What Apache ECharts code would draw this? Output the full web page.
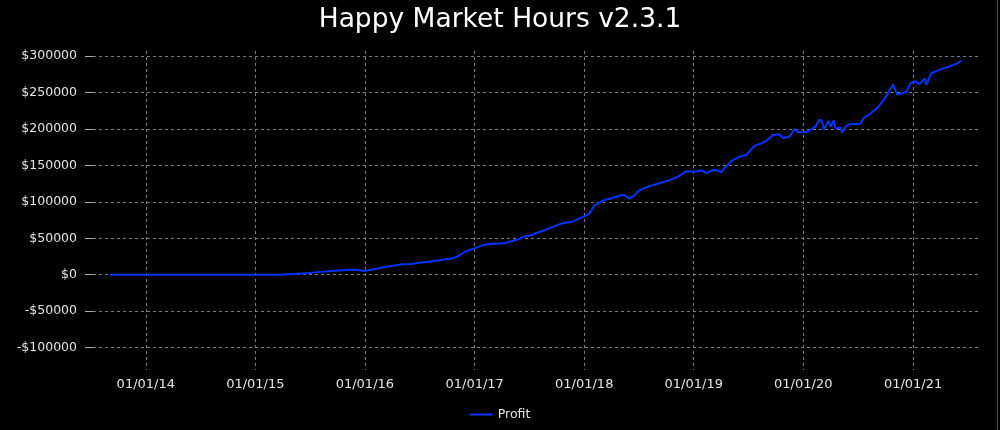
<!DOCTYPE html>
<html>
<head>
<meta charset="utf-8">
<script src="https://cdn.jsdelivr.net/npm/echarts@6/dist/echarts.min.js"></script>
<style>
html,body{margin:0;padding:0;background:#000;}
#chart{width:1000px;height:430px;}
</style>
</head>
<body>
<div id="chart"></div>
<script>
const titleText = 'Happy Market Hours v2.3.1';
const seriesName = 'Profit';
const yTicks = [-100000, -50000, 0, 50000, 100000, 150000, 200000, 250000, 300000];
const xRange = ['2013-07-09', '2021-08-12'];

const dates = [
'2013-09-03','2015-03-24','2015-03-27','2015-07-02','2015-07-06','2015-09-12','2015-09-16','2015-11-14',
'2015-11-19','2015-11-25','2015-12-06','2015-12-12','2015-12-28','2016-01-18','2016-02-09','2016-03-01',
'2016-04-03','2016-05-06','2016-06-06','2016-06-10','2016-06-18','2016-07-31','2016-09-13','2016-10-16',
'2016-10-27','2016-11-13','2016-11-30','2016-12-29','2017-01-31','2017-02-17','2017-04-11','2017-05-08',
'2017-05-28','2017-06-01','2017-06-10','2017-07-02','2017-08-04','2017-08-15','2017-09-12','2017-10-20',
'2017-11-22','2017-12-14','2017-12-25','2018-01-17','2018-02-02','2018-02-18','2018-03-07','2018-04-03',
'2018-05-07','2018-05-19','2018-05-29','2018-06-14','2018-07-01','2018-07-23','2018-09-05','2018-10-08',
'2018-11-10','2018-12-08','2019-01-05','2019-01-27','2019-02-13','2019-03-07','2019-03-22','2019-04-03',
'2019-04-14','2019-05-07','2019-06-03','2019-06-25','2019-07-23','2019-08-14','2019-08-31','2019-09-22',
'2019-10-14','2019-10-25','2019-11-16','2019-12-03','2019-12-14','2020-01-15','2020-02-11','2020-02-22',
'2020-03-02','2020-03-10','2020-03-25','2020-04-01','2020-04-12','2020-04-18','2020-05-04','2020-05-10',
'2020-05-21','2020-06-07','2020-06-29','2020-07-10','2020-07-21','2020-08-12','2020-09-03','2020-09-25',
'2020-10-12','2020-10-18','2020-10-26','2020-11-09','2020-12-01','2020-12-10','2020-12-23','2021-01-07',
'2021-01-23','2021-02-09','2021-02-14','2021-03-03','2021-03-30','2021-05-02','2021-05-24','2021-06-11'
];
const profit = [
0,0,2500,2500,5000,5000,6800,6800,
4800,6700,6600,4700,5200,6400,8200,10200,
12400,14300,14600,13300,15600,17800,20200,22200,
23500,27000,31500,35800,41000,42200,43000,46500,
48600,47500,52000,53500,58500,60000,64500,70500,
72700,76500,79000,83000,94000,98500,102000,104800,
109300,108500,104500,107500,115000,119500,125000,129000,
134500,142000,141300,143200,139500,143600,143000,140500,
146800,156000,161900,164200,177000,180200,183400,191600,
192600,187500,189300,200000,195300,196000,203000,212200,
212000,199000,211000,203000,212000,200500,202000,194500,
203500,207000,206500,207500,215000,221000,228500,239600,
251000,255000,261000,247000,249500,250500,262600,265500,
261500,269400,260500,276300,281000,285500,289000,293500
];

const chart = echarts.init(document.getElementById('chart'), null, {renderer: 'canvas'});
const gridColor = '#7c7c7c';
const labelColor = '#e4e4e4';
const dayMs = 86400000;

const option = {
  backgroundColor: '#000',
  animation: false,
  title: {
    text: titleText,
    left: 'center',
    top: 2,
    textStyle: {color: '#ffffff', fontFamily: 'DejaVu Sans', fontSize: 26.5, fontWeight: 'normal'}
  },
  legend: {
    data: [seriesName],
    left: 'center',
    top: 403,
    icon: 'rect',
    itemWidth: 23,
    itemHeight: 2,
    itemGap: 10,
    textStyle: {color: labelColor, fontFamily: 'DejaVu Sans', fontSize: 12.5}
  },
  grid: [
    {left: 93, right: 20, top: 56, height: 291.6},
    {left: 93, right: 20, top: 51, bottom: 60}
  ],
  xAxis: [
    {
      type: 'time', gridIndex: 0, min: xRange[0], max: xRange[1],
      show: false
    },
    {
      type: 'time', gridIndex: 1, min: xRange[0], max: xRange[1],
      splitNumber: 8,
      minInterval: 365 * dayMs,
      maxInterval: 366 * dayMs,
      axisLine: {show: false},
      axisTick: {show: false},
      splitLine: {show: true, showMinLine: false, showMaxLine: false,
        lineStyle: {color: gridColor, type: [3, 3], width: 1}},
      axisLabel: {
        color: labelColor, fontFamily: 'DejaVu Sans', fontSize: 13, margin: 8,
        showMinLabel: false, showMaxLabel: false,
        formatter: function (v) { return echarts.time.format(v, '{dd}/{MM}/{yy}', false); }
      }
    }
  ],
  yAxis: [
    {
      type: 'value', gridIndex: 0,
      min: yTicks[0], max: yTicks[yTicks.length - 1], interval: yTicks[1] - yTicks[0],
      axisLine: {show: false},
      axisTick: {show: true, length: 8, lineStyle: {color: '#aaaaaa'}},
      splitLine: {show: true, lineStyle: {color: gridColor, type: [3, 3], width: 1}},
      axisLabel: {
        color: labelColor, fontFamily: 'DejaVu Sans', fontSize: 12.5, margin: 16,
        formatter: function (v) { return (v < 0 ? '-$' : '$') + Math.abs(v); }
      }
    },
    {
      type: 'value', gridIndex: 1, show: false, min: 0, max: 1
    }
  ],
  graphic: [
    {type: 'rect', left: 997, top: 0, shape: {width: 1, height: 430}, style: {fill: '#4a4a4a'}, silent: true}
  ],
  series: [
    {
      name: seriesName,
      type: 'line',
      xAxisIndex: 0, yAxisIndex: 0,
      showSymbol: false,
      symbol: 'none',
      lineStyle: {color: '#0033ff', width: 2},
      itemStyle: {color: '#0033ff'},
      data: dates.map((d, i) => [d, profit[i]])
    }
  ]
};
chart.setOption(option);
</script>
</body>
</html>
